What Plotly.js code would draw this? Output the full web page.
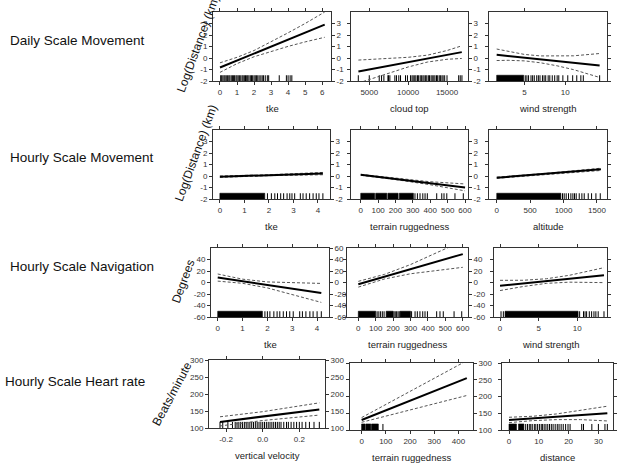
<!DOCTYPE html>
<html>
<head>
<meta charset="utf-8">
<script src="https://cdn.plot.ly/plotly-3.0.1.min.js"></script>
<style>
html, body { margin: 0; padding: 0; background: #fff; }
#chart { width: 618px; height: 465px; }
</style>
</head>
<body>
<div id="chart"></div>
<script>
// ---------- Row and axis text ----------
const rowLabels = ["Daily Scale Movement", "Hourly Scale Movement", "Hourly Scale Navigation", "Hourly Scale Heart rate"];
const yTitles = ["Log(Distance) (km)", "Log(Distance) (km)", "Degrees", "Beats/minute"];
const xTitles = [
  ["tke", "cloud top", "wind strength"],
  ["tke", "terrain ruggedness", "altitude"],
  ["tke", "terrain ruggedness", "wind strength"],
  ["vertical velocity", "terrain ruggedness", "distance"]
];

// ---------- Tick values and labels ----------
const logDistTicks = [-2, -1, 0, 1, 2, 3];
const logDistTickText = ["-2", "-1", "0", "1", "2", "3"];
const degTicks = [-60, -40, -20, 0, 20, 40];
const degTickText = ["-60", "-40", "-20", "0", "20", "40"];
const degTicksFull = [-60, -40, -20, 0, 20, 40, 60];
const degTickTextFull = ["-60", "-40", "-20", "0", "20", "40", "60"];
const bpmTicks = [100, 150, 200, 250, 300];
const bpmTickText = ["100", "150", "200", "250", "300"];

const tkeTicks6 = [0, 1, 2, 3, 4, 5, 6];
const tkeTicks4 = [0, 1, 2, 3, 4];
const cloudTicks = [5000, 10000, 15000];
const windTicksDaily = [5, 10];
const windTicksHourly = [0, 5, 10];
const ruggedTicks6 = [0, 100, 200, 300, 400, 500, 600];
const ruggedTicks4 = [0, 100, 200, 300, 400];
const altitudeTicks = [0, 500, 1000, 1500];
const vvTicks = [-0.2, 0.0, 0.2];
const vvTickText = ["-0.2", "0.0", "0.2"];
const distanceTicks = [0, 10, 20, 30];

// ---------- Daily scale movement ----------
const dTkeX = [0, 1, 2, 3, 4, 5, 6.15];
const dTkeFit = [-0.83, -0.22, 0.38, 0.99, 1.6, 2.2, 2.9];
const dTkeUpper = [-0.42, 0.06, 0.65, 1.4, 2.19, 3.0, 4.0];
const dTkeLower = [-1.25, -0.49, 0.11, 0.58, 1.01, 1.4, 1.8];
const dTkeRug = [0.04, 0.1, 0.17, 0.24, 0.3, 0.37, 0.45, 0.52, 0.58, 0.66, 0.73, 0.8, 0.86, 0.94, 1.0, 1.07, 1.14, 1.22, 1.3, 1.36, 1.43, 1.5, 1.57, 1.63, 1.7, 1.78, 1.85, 1.92, 2.0, 2.07, 2.14, 2.22, 2.3, 2.4, 2.48, 2.56, 2.66, 2.78, 2.86, 3.48, 3.9, 4.0, 4.12, 4.22];
const dTkeBands = [];

const cloudX = [3600, 5000, 7500, 10000, 12500, 15000, 16900];
const cloudFit = [-1.18, -1.0, -0.68, -0.36, -0.05, 0.27, 0.51];
const cloudUpper = [-0.18, -0.14, -0.06, 0.06, 0.25, 0.65, 1.06];
const cloudLower = [-2.18, -1.86, -1.3, -0.78, -0.35, -0.11, -0.04];
const cloudRug = [3590, 5000, 6280, 6580, 6880, 7400, 7480, 7650, 8290, 8500, 8800, 9020, 9660, 9910, 10300, 10500, 10650, 10850, 11000, 11200, 11350, 11550, 11700, 11900, 12050, 12250, 12400, 12600, 12750, 12950, 13100, 13300, 13450, 13650, 13800, 14000, 14150, 14350, 14500, 14700, 15000, 16500, 16700, 16920];
const cloudBands = [];

const dWindX = [1.6, 3, 5, 7, 9, 11, 14.2];
const dWindFit = [0.28, 0.18, 0.03, -0.12, -0.26, -0.41, -0.65];
const dWindUpper = [0.78, 0.56, 0.31, 0.18, 0.16, 0.19, 0.39];
const dWindLower = [-0.22, -0.2, -0.25, -0.42, -0.68, -1.01, -1.69];
const dWindRug = [5.1, 5.3, 5.5, 5.8, 6.0, 6.2, 6.5, 6.7, 6.9, 7.2, 7.4, 7.6, 7.9, 8.1, 8.4, 8.7, 9.0, 9.2, 9.7, 10.3, 10.9, 11.4, 11.9, 12.2, 14.2];
const dWindBands = [[1.6, 4.9]];

// ---------- Hourly scale movement ----------
const hTkeX = [0, 2, 4.2];
const hTkeFit = [-0.06, 0.07, 0.21];
const hTkeUpper = [0.0, 0.11, 0.31];
const hTkeLower = [-0.12, 0.03, 0.11];
const hTkeRug = [1.94, 2.1, 2.24, 2.35, 2.48, 2.6, 2.74, 2.85, 2.94, 3.05, 3.28, 3.39, 3.52, 3.66, 3.8, 3.93, 4.04, 4.2];
const hTkeBands = [[0, 1.83]];

const hRugX = [0, 200, 400, 600];
const hRugFit = [0.1, -0.26, -0.63, -0.99];
const hRugUpper = [0.14, -0.21, -0.5, -0.69];
const hRugLower = [0.06, -0.31, -0.76, -1.29];
const hRugRug = [312, 326, 341, 357, 370, 383, 437, 466, 479, 495, 542, 590];
const hRugBands = [[0, 80], [86, 150], [156, 215], [222, 303]];

const altX = [0, 800, 1560];
const altFit = [-0.15, 0.22, 0.58];
const altUpper = [-0.1, 0.26, 0.68];
const altLower = [-0.2, 0.18, 0.48];
const altRug = [985, 1010, 1040, 1075, 1110, 1140, 1165, 1190, 1235, 1275, 1310, 1370, 1420, 1485, 1550];
const altBands = [[0, 960]];

// ---------- Hourly scale navigation ----------
const nTkeX = [0, 1, 2, 3, 4.17];
const nTkeFit = [8.6, 2.2, -4.2, -10.6, -18.1];
const nTkeUpper = [14.8, 5.8, 1.0, -0.6, -1.6];
const nTkeLower = [2.4, -1.4, -9.4, -20.6, -34.6];
const nTkeRug = [1.9, 2.0, 2.1, 2.26, 2.39, 2.5, 2.64, 2.77, 2.9, 3.04, 3.3, 3.41, 3.55, 3.71, 3.84, 4.0, 4.17];
const nTkeBands = [[0, 1.8]];

const nRugX = [0, 150, 300, 450, 600];
const nRugFit = [-3, 10.1, 23.2, 36.3, 49.4];
const nRugUpper = [2, 14.1, 31.2, 51.3, 72.4];
const nRugLower = [-8, 6.1, 15.2, 21.3, 26.4];
const nRugRug = [108, 118, 128, 138, 148, 205, 212, 220, 228, 235, 306, 326, 339, 354, 370, 383, 397, 450, 469, 488, 550, 594];
const nRugBands = [[0, 100], [160, 200], [240, 300]];

const nWindX = [0, 3, 6, 9, 13.45];
const nWindFit = [-5.8, -1.65, 2.5, 6.64, 12.8];
const nWindUpper = [3.8, 3.9, 6.5, 12.6, 25.8];
const nWindLower = [-14, -7, -1.5, 0.6, -0.2];
const nWindRug = [0.13, 0.43, 10.3, 10.8, 11.0, 11.2, 11.55, 11.85, 12.15, 12.4, 12.7, 13.45];
const nWindBands = [[0.65, 10.1]];

// ---------- Hourly scale heart rate ----------
const vvX = [-0.233, 0, 0.309];
const vvFit = [117.9, 133.7, 154.7];
const vvUpper = [133, 148, 174];
const vvLower = [106, 122, 138];
const vvRug = [-0.233, -0.218, -0.19, -0.165, -0.15, -0.14, -0.13, -0.12, -0.11, -0.1, -0.09, -0.08, -0.07, -0.06, -0.05, -0.04, -0.03, -0.02, -0.01, 0.0, 0.01, 0.02, 0.03, 0.04, 0.05, 0.06, 0.07, 0.08, 0.09, 0.1, 0.115, 0.13, 0.14, 0.155, 0.17, 0.185, 0.2, 0.215, 0.235, 0.255, 0.28, 0.309];
const vvBands = [];

const hrRugX = [0, 100, 200, 300, 434.5];
const hrRugFit = [130, 158.8, 187.5, 216.3, 255];
const hrRugUpper = [137, 175.8, 214.5, 254.3, 307];
const hrRugLower = [123, 141.8, 160.5, 178.3, 203];
const hrRugRug = [88];
const hrRugBands = [[0, 14], [17, 38], [41, 69]];

const distX = [0, 8, 16, 24, 33];
const distFit = [130, 134.8, 139.7, 144.5, 150];
const distUpper = [138, 141, 148, 158, 171];
const distLower = [122, 128, 131, 131, 127];
const distRug = [5.6, 6.2, 6.8, 7.3, 7.8, 8.5, 9.0, 9.6, 10.2, 10.8, 11.2, 11.8, 12.4, 13.0, 13.6, 14.2, 14.8, 15.5, 16.2, 16.8, 17.5, 18.2, 19.0, 19.8, 20.5, 24.4, 25.0, 27.8, 30.0, 32.2, 33.0];
const distBands = [[0, 2.5], [3.2, 5.0]];

// ---------- Assemble panels ----------
const W = 618, H = 465;
const FONT = "Liberation Sans, Arial, Helvetica, sans-serif";

// per-row y scale settings
const rows = [
  { range: [-2, 4], left: [logDistTicks, logDistTickText], right1: [logDistTicks, logDistTickText], right2: [logDistTicks, logDistTickText], rugTop: -1.5 },
  { range: [-2, 4], left: [logDistTicks, logDistTickText], right1: [logDistTicks, logDistTickText], right2: [logDistTicks, logDistTickText], rugTop: -1.5 },
  { range: [-60, 60], left: [degTicks, degTickText], right1: [degTicksFull, degTickTextFull], right2: [degTicks, degTickText], rugTop: -50 },
  { range: [100, 300], left: [bpmTicks, bpmTickText], right1: [bpmTicks, bpmTickText], right2: [bpmTicks, bpmTickText], rugTop: 118 }
];

const panels = [
  { row: 0, col: 0, box: [213, 331, 12, 81], xr: [-0.41, 6.52], xt: tkeTicks6, x: dTkeX, fit: dTkeFit, up: dTkeUpper, lo: dTkeLower, rug: dTkeRug, bands: dTkeBands },
  { row: 0, col: 1, box: [351, 468, 12, 81], xr: [2650, 17700], xt: cloudTicks, x: cloudX, fit: cloudFit, up: cloudUpper, lo: cloudLower, rug: cloudRug, bands: cloudBands },
  { row: 0, col: 2, box: [489, 607, 12, 81], xr: [0.66, 15.1], xt: windTicksDaily, x: dWindX, fit: dWindFit, up: dWindUpper, lo: dWindLower, rug: dWindRug, bands: dWindBands },
  { row: 1, col: 0, box: [213, 330, 130, 199], xr: [-0.28, 4.49], xt: tkeTicks4, x: hTkeX, fit: hTkeFit, up: hTkeUpper, lo: hTkeLower, rug: hTkeRug, bands: hTkeBands },
  { row: 1, col: 1, box: [351, 468, 130, 199], xr: [-56, 617], xt: ruggedTicks6, x: hRugX, fit: hRugFit, up: hRugUpper, lo: hRugLower, rug: hRugRug, bands: hRugBands },
  { row: 1, col: 2, box: [489, 607, 130, 199], xr: [-116, 1651], xt: altitudeTicks, x: altX, fit: altFit, up: altUpper, lo: altLower, rug: altRug, bands: altBands },
  { row: 2, col: 0, box: [211, 329, 248, 317], xr: [-0.27, 4.48], xt: tkeTicks4, x: nTkeX, fit: nTkeFit, up: nTkeUpper, lo: nTkeLower, rug: nTkeRug, bands: nTkeBands },
  { row: 2, col: 1, box: [347, 468, 248, 317], xr: [-65, 630], xt: ruggedTicks6, x: nRugX, fit: nRugFit, up: nRugUpper, lo: nRugLower, rug: nRugRug, bands: nRugBands },
  { row: 2, col: 2, box: [494, 607, 248, 317], xr: [-0.78, 13.84], xt: windTicksHourly, x: nWindX, fit: nWindFit, up: nWindUpper, lo: nWindLower, rug: nWindRug, bands: nWindBands },
  { row: 3, col: 0, box: [209, 325, 360, 428], xr: [-0.293, 0.34], xt: vvTicks, xtt: vvTickText, x: vvX, fit: vvFit, up: vvUpper, lo: vvLower, rug: vvRug, bands: vvBands },
  { row: 3, col: 1, box: [350, 473, 363, 430], xr: [-48, 460], xt: ruggedTicks4, x: hrRugX, fit: hrRugFit, up: hrRugUpper, lo: hrRugLower, rug: hrRugRug, bands: hrRugBands },
  { row: 3, col: 2, box: [502, 613, 363, 430], xr: [-2.35, 34.9], xt: distanceTicks, x: distX, fit: distFit, up: distUpper, lo: distLower, rug: distRug, bands: distBands }
];

const traces = [];
const layout = {
  width: W, height: H,
  margin: { l: 0, r: 0, t: 0, b: 0 },
  paper_bgcolor: "#fff", plot_bgcolor: "#fff",
  showlegend: false,
  font: { family: FONT, color: "#222" },
  annotations: []
};

const axisCommon = {
  ticks: "outside", ticklen: 3, tickwidth: 1, tickcolor: "#333",
  showline: true, linecolor: "#333", linewidth: 1, mirror: "ticks",
  showgrid: false, zeroline: false, fixedrange: true,
  tickfont: { family: FONT, size: 8, color: "#333" }
};

let extraAxis = 13;
panels.forEach((p, i) => {
  const n = i + 1;
  const xa = n === 1 ? "x" : "x" + n;
  const ya = n === 1 ? "y" : "y" + n;
  const r = rows[p.row];
  const [l, rt, t, b] = p.box;
  const yb = r.range[0], yt = r.rugTop;

  // rug: dense stretches as filled blocks
  if (p.bands.length) {
    const bx = [], by = [];
    p.bands.forEach(([a, c]) => { bx.push(a, a, c, c, a, null); by.push(yb, yt, yt, yb, yb, null); });
    traces.push({ type: "scatter", mode: "lines", x: bx, y: by, xaxis: xa, yaxis: ya,
      fill: "toself", fillcolor: "#000", line: { width: 0.6, color: "#000" }, hoverinfo: "skip" });
  }
  // rug: single observations as vertical ticks
  const rx = [], ry = [];
  p.rug.forEach(v => { rx.push(v, v, null); ry.push(yb, yt, null); });
  traces.push({ type: "scatter", mode: "lines", x: rx, y: ry, xaxis: xa, yaxis: ya,
    line: { width: 1, color: "#000" }, hoverinfo: "skip" });

  // confidence bounds and fitted effect
  [p.lo, p.up].forEach(arr => traces.push({ type: "scatter", mode: "lines", x: p.x, y: arr,
    xaxis: xa, yaxis: ya, line: { width: 1, color: "#555", dash: "3px,2px" }, hoverinfo: "skip" }));
  traces.push({ type: "scatter", mode: "lines", x: p.x, y: p.fit, xaxis: xa, yaxis: ya,
    line: { width: 2, color: "#000" }, hoverinfo: "skip" });

  const xKey = n === 1 ? "xaxis" : "xaxis" + n;
  const yKey = n === 1 ? "yaxis" : "yaxis" + n;
  layout[xKey] = Object.assign({}, axisCommon, {
    domain: [l / W, rt / W], range: p.xr, anchor: ya,
    tickmode: "array", tickvals: p.xt, ticktext: p.xtt || p.xt.map(String)
  });
  layout[yKey] = Object.assign({}, axisCommon, {
    domain: [1 - b / H, 1 - t / H], range: r.range, anchor: xa,
    tickmode: "array", tickvals: r.left[0], ticktext: r.left[1],
    showticklabels: p.col === 0
  });

  // tick labels on the right edge for the first two columns
  if (p.col < 2) {
    const rtk = p.col === 0 ? r.right1 : r.right2;
    const k = extraAxis++;
    layout["yaxis" + k] = Object.assign({}, axisCommon, {
      overlaying: ya, side: "right", anchor: xa, range: r.range, showline: false, mirror: false,
      tickmode: "array", tickvals: rtk[0], ticktext: rtk[1]
    });
    traces.push({ type: "scatter", mode: "lines", x: [], y: [], xaxis: xa, yaxis: "y" + k, hoverinfo: "skip" });
  }

  // x axis title
  layout.annotations.push({
    text: xTitles[p.row][p.col], xref: "paper", yref: "paper",
    x: (l + rt) / 2 / W, y: 1 - (b + 27) / H, xanchor: "center", yanchor: "middle",
    showarrow: false, font: { family: FONT, size: 9.5, color: "#222" }
  });
});

// row labels on the left
const rowLabelPos = [[8, 40], [8, 157], [8, 266], [3, 381]];
rowLabels.forEach((txt, i) => layout.annotations.push({
  text: txt, xref: "paper", yref: "paper", x: rowLabelPos[i][0] / W, y: 1 - rowLabelPos[i][1] / H,
  xanchor: "left", yanchor: "middle", showarrow: false, font: { family: FONT, size: 13.5, color: "#111" }
}));

// slanted y titles
const yTitlePos = [[198, 44, -70], [196, 153, -70], [183, 282, -70], [172, 394, -62]];
yTitles.forEach((txt, i) => layout.annotations.push({
  text: txt, xref: "paper", yref: "paper", x: yTitlePos[i][0] / W, y: 1 - yTitlePos[i][1] / H,
  xanchor: "center", yanchor: "middle", textangle: yTitlePos[i][2], showarrow: false,
  font: { family: FONT, size: 12, color: "#111" }
}));

Plotly.newPlot("chart", traces, layout, { staticPlot: true, displayModeBar: false });
</script>
</body>
</html>
